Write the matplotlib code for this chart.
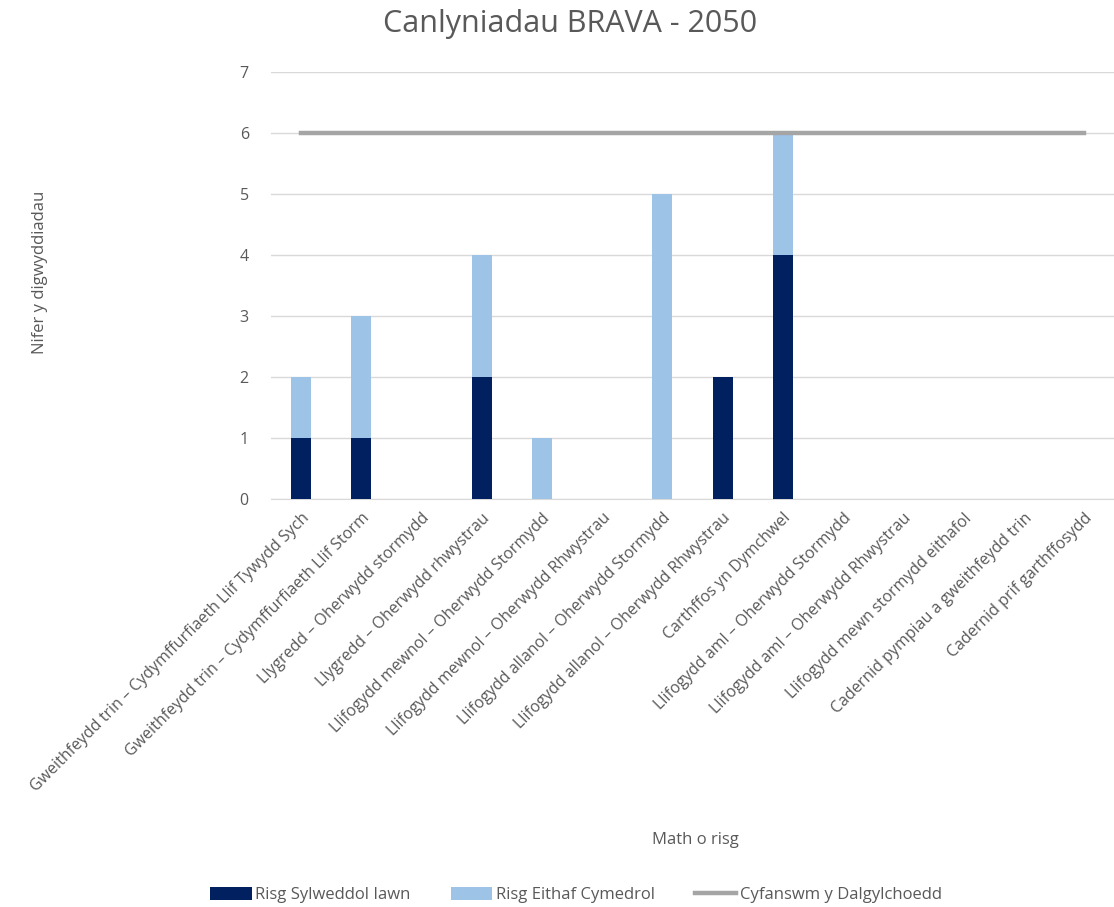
import matplotlib
matplotlib.use("Agg")
import matplotlib.pyplot as plt
import numpy as np

plt.rcParams['font.family'] = ['Open Sans', 'DejaVu Sans']

labels = [
    "Gweithfeydd trin – Cydymffurfiaeth Llif Tywydd Sych",
    "Gweithfeydd trin – Cydymffurfiaeth Llif Storm",
    "Llygredd – Oherwydd stormydd",
    "Llygredd – Oherwydd rhwystrau",
    "Llifogydd mewnol – Oherwydd Stormydd",
    "Llifogydd mewnol – Oherwydd Rhwystrau",
    "Llifogydd allanol – Oherwydd Stormydd",
    "Llifogydd allanol – Oherwydd Rhwystrau",
    "Carthffos yn Dymchwel",
    "Llifogydd aml – Oherwydd Stormydd",
    "Llifogydd aml – Oherwydd Rhwystrau",
    "Llifogydd mewn stormydd eithafol",
    "Cadernid pympiau a gweithfeydd trin",
    "Cadernid prif garthffosydd",
]
risg_sylweddol = [1, 1, 0, 2, 0, 0, 0, 2, 4, 0, 0, 0, 0, 0]
risg_eithaf = [1, 2, 0, 2, 1, 0, 5, 0, 2, 0, 0, 0, 0, 0]
cyfanswm = [6] * 14

text_col = "#595959"
dark = "#002060"
light = "#9DC3E6"
grey = "#A5A5A5"

fig = plt.figure(figsize=(11.14, 9.07), dpi=100)
ax = fig.add_axes([0.2433, 0.4498, 0.7567, 0.4708])

x = np.arange(len(labels))
b1 = ax.bar(x, risg_sylweddol, width=0.33, color=dark, label="Risg Sylweddol Iawn", zorder=3)
b2 = ax.bar(x, risg_eithaf, width=0.33, bottom=risg_sylweddol, color=light,
            label="Risg Eithaf Cymedrol", zorder=3)
ln, = ax.plot(x, cyfanswm, color=grey, lw=3.2, label="Cyfanswm y Dalgylchoedd", zorder=4)

ax.set_xlim(-0.5, len(labels) - 0.5)
ax.set_ylim(0, 7)
ax.set_yticks(range(8))
ax.grid(axis='y', color="#D9D9D9", lw=1, zorder=0)
for s in ['top', 'right', 'left']:
    ax.spines[s].set_visible(False)
ax.spines['bottom'].set_color("#D9D9D9")
ax.tick_params(length=0, colors=text_col, labelsize=11.5)
ax.tick_params(axis='y', pad=16)

ax.set_xticks(x)
ax.set_xticklabels(labels, rotation=45, ha='right', rotation_mode='anchor',
                   fontsize=11.5, color=text_col)
ax.tick_params(axis='x', pad=8)

fig.text(0.512, 0.973, "Canlyniadau BRAVA - 2050", ha='center', va='center',
         fontsize=22, color=text_col)
fig.text(0.036, 0.7, "Nifer y digwyddiadau", rotation=90, ha='center', va='center',
         fontsize=12, color=text_col)
fig.text(0.624, 0.074, "Math o risg", ha='center', va='center',
         fontsize=12, color=text_col)

fig.legend(handles=[b1, b2, ln], loc='center', bbox_to_anchor=(0.517, 0.013), ncol=3,
           frameon=False, fontsize=12, labelcolor=text_col, handlelength=2.5,
           handleheight=0.8, columnspacing=2.4, handletextpad=0.2)

fig.savefig("out.png", dpi=100)
